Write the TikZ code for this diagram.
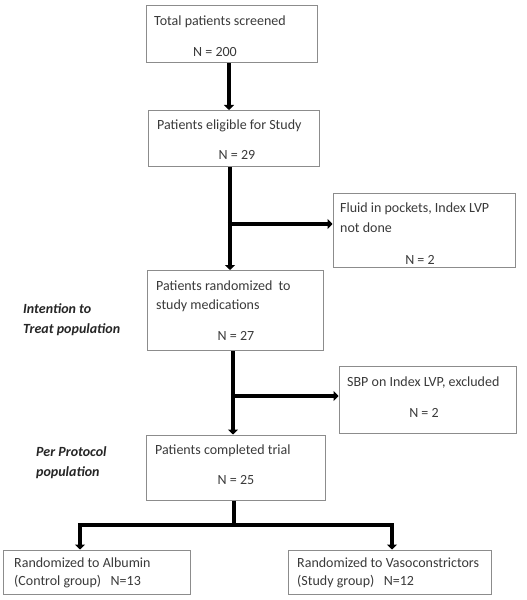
\documentclass[tikz,border=0pt]{standalone}
\usepackage{fontspec}
\setmainfont{Carlito}
\usetikzlibrary{arrows.meta}
\definecolor{txt}{HTML}{3A3A3A}
\definecolor{frame}{HTML}{8C8C8C}
\tikzset{
  box/.style={draw=frame, line width=1bp, fill=white, inner sep=0pt},
  lbl/.style={anchor=base west, inner sep=0pt, text=txt, font=\fontsize{14bp}{16bp}\selectfont},
  num/.style={anchor=base, inner sep=0pt, text=txt, font=\fontsize{14bp}{16bp}\selectfont},
  side/.style={anchor=base west, inner sep=0pt, text=black!85, font=\fontsize{14bp}{16bp}\selectfont\bfseries\itshape},
  arr/.style={line width=4.5bp, -{Triangle[width=10bp,length=5bp]}},
  bar/.style={line width=4.5bp},
}
\begin{document}
\begin{tikzpicture}[x=1bp,y=-1bp]
\useasboundingbox[fill=white] (0,0) rectangle (527,600);
% boxes
\node[box, minimum width=171bp, minimum height=57bp] (b1) at (231.5,34.5) {};
\node[box, minimum width=171bp, minimum height=56bp] (b2) at (233.5,138.5) {};
\node[box, minimum width=182bp, minimum height=74bp] (b3) at (424,230) {};
\node[box, minimum width=176bp, minimum height=80bp] (b4) at (235.5,310.5) {};
\node[box, minimum width=177bp, minimum height=67bp] (b5) at (427.5,399.5) {};
\node[box, minimum width=179bp, minimum height=65bp] (b6) at (235.5,467.5) {};
\node[box, minimum width=186bp, minimum height=44bp] (b7) at (97,572) {};
\node[box, minimum width=203bp, minimum height=44bp] (b8) at (389.5,572) {};
% texts
\node[lbl] (t1a) at (154,26) {Total patients screened};
\node[num] (t1b) at (215,57) {N = 200};
\node[lbl] (t2a) at (157,130) {Patients eligible for Study};
\node[num] (t2b) at (237,160) {N = 29};
\node[lbl] (t3a) at (340,212) {Fluid in pockets, Index LVP};
\node[lbl] (t3b) at (340,232) {not done};
\node[num] (t3c) at (420,264) {N = 2};
\node[lbl] (t4a) at (156,290) {Patients randomized\ \ to};
\node[lbl] (t4b) at (156,309) {study medications};
\node[num] (t4c) at (236,340) {N = 27};
\node[lbl] (t5a) at (347,386) {SBP on Index LVP, excluded};
\node[num] (t5b) at (424,417) {N = 2};
\node[lbl] (t6a) at (155,454) {Patients completed trial};
\node[num] (t6b) at (236,484) {N = 25};
\node[lbl] (t7a) at (14,567) {Randomized to Albumin};
\node[lbl] (t7b) at (14,585) {(Control group)\ \ \ N=13};
\node[lbl] (t8a) at (297,567) {Randomized to Vasoconstrictors};
\node[lbl] (t8b) at (297,585) {(Study group)\ \ \ N=12};
% side labels
\node[side] (s1) at (23,313) {Intention to};
\node[side] (s2) at (23,333) {Treat population};
\node[side] (s3) at (36,456) {Per Protocol};
\node[side] (s4) at (36,476) {population};
% connector guides
\coordinate (x1) at (229,0);
\coordinate (x2) at (230,0);
\coordinate (j1) at (230,224);
\coordinate (x3) at (233,0);
\coordinate (j2) at (233,396);
\coordinate (x4) at (234,0);
\coordinate (j3) at (234,525);
\coordinate (jl) at (80,525);
\coordinate (jr) at (392,525);
% connectors
\draw[arr] (b1.south -| x1) -- (b2.north -| x1);
\draw[arr] (b2.south -| x2) -- (b4.north -| x2);
\draw[arr] ([xshift=-2.25bp]j1) -- (j1 -| b3.west);
\draw[arr] (b4.south -| x3) -- (b6.north -| x3);
\draw[arr] ([xshift=-2.25bp]j2) -- (j2 -| b5.west);
\draw[bar] (b6.south -| x4) -- ([yshift=2.25bp]j3);
\draw[bar] ([xshift=-2.25bp]jl) -- ([xshift=2.25bp]jr);
\draw[arr] (jl) -- (b7.north -| jl);
\draw[arr] (jr) -- (b8.north -| jr);
\end{tikzpicture}
\end{document}
